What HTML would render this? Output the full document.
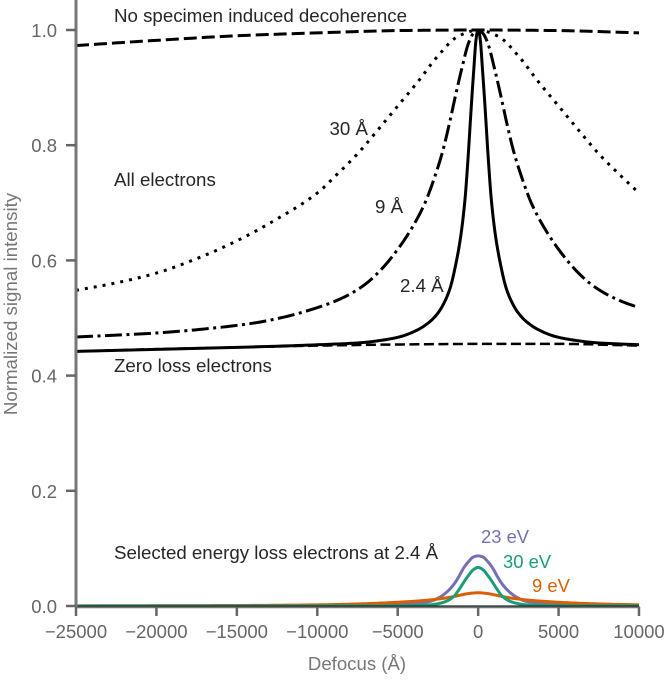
<!DOCTYPE html>
<html>
<head>
<meta charset="utf-8">
<title>Normalized signal intensity vs defocus</title>
<style>
html,body{margin:0;padding:0;background:#fff;width:665px;height:680px;overflow:hidden}
svg{display:block;font-family:"Liberation Sans",Arial,sans-serif}
</style>
</head>
<body>
<svg id="chart" width="665" height="680" viewBox="0 0 665 680" xmlns="http://www.w3.org/2000/svg">
  <g id="series" fill="none"></g>
  <g id="axes"></g>
  <text transform="translate(17,304) rotate(-90)" text-anchor="middle" font-size="18.7" fill="#777">Normalized signal intensity</text>
  <text x="357" y="670" text-anchor="middle" font-size="18.6" fill="#777">Defocus (Å)</text>
  <g font-size="18.7" fill="#262626">
    <text x="114" y="22">No specimen induced decoherence</text>
    <text x="114" y="186">All electrons</text>
    <text x="114" y="372">Zero loss electrons</text>
    <text x="114" y="559">Selected energy loss electrons at 2.4 Å</text>
    <text x="329.5" y="135">30 Å</text>
    <text x="375" y="213">9 Å</text>
    <text x="400" y="292">2.4 Å</text>
  </g>
  <text x="481" y="543" font-size="18.4" fill="#7570b3">23 eV</text>
  <text x="503" y="568" font-size="18.4" fill="#1b9e77">30 eV</text>
  <text x="532" y="592" font-size="18.4" fill="#d95f02">9 eV</text>
</svg>
<script>
const xTicks = [-25000, -20000, -15000, -10000, -5000, 0, 5000, 10000];
const yTicks = [0, 0.2, 0.4, 0.6, 0.8, 1.0];

const noDecoherenceX = [-25000, -20000, -15000, -10000, -5000, 0, 5000, 10000];
const noDecoherenceY = [0.973, 0.982, 0.990, 0.995, 0.999, 1.0, 0.999, 0.995];

const zeroLossX = [-25000, -20000, -15000, -10000, -5000, 0, 5000, 10000];
const zeroLossY = [0.442, 0.446, 0.449, 0.452, 0.454, 0.455, 0.455, 0.452];

const all30X = [-25000, -22500, -20000, -17500, -15000, -12500, -10000, -8750, -7500, -6250, -5000, -3750, -2500, -1250, 0, 1250, 2500, 3750, 5000, 6250, 7500, 8750, 10000];
const all30Y = [0.548, 0.561, 0.578, 0.603, 0.634, 0.672, 0.717, 0.75, 0.785, 0.826, 0.868, 0.91, 0.955, 0.989, 1.0, 0.989, 0.955, 0.91, 0.868, 0.826, 0.785, 0.75, 0.717];

const all9X = [-25000, -20000, -17000, -14000, -12000, -10000, -9000, -8000, -7000, -6000, -4850, -4000, -3300, -2700, -2200, -1800, -1400, -1000, -600, -300, 0, 300, 600, 1000, 1400, 1800, 2200, 2700, 3300, 4000, 4850, 6000, 7000, 8000, 9000, 10000];
const all9Y = [0.467, 0.474, 0.481, 0.491, 0.502, 0.518, 0.528, 0.541, 0.559, 0.585, 0.625, 0.662, 0.70, 0.745, 0.79, 0.836, 0.887, 0.935, 0.977, 0.994, 1.0, 0.994, 0.977, 0.935, 0.887, 0.836, 0.79, 0.745, 0.70, 0.662, 0.625, 0.585, 0.559, 0.541, 0.528, 0.518];

const all24X = [-25000, -20000, -15000, -10000, -7336, -5844, -4849, -3792, -2966, -2425, -2052, -1741, -1399, -1088, -821, -622, -479, -373, -274, -137, -62, 0, 62, 137, 274, 373, 479, 622, 821, 1088, 1399, 1741, 2052, 2425, 2966, 3792, 4849, 5844, 7336, 10000];
const all24Y = [0.442, 0.4455, 0.449, 0.4535, 0.457, 0.462, 0.4675, 0.479, 0.4945, 0.5115, 0.53, 0.552, 0.592, 0.641, 0.705, 0.78, 0.844, 0.89, 0.93, 0.982, 0.996, 1.0, 0.996, 0.982, 0.93, 0.89, 0.844, 0.78, 0.705, 0.641, 0.592, 0.552, 0.53, 0.5115, 0.4945, 0.479, 0.4675, 0.462, 0.457, 0.4535];

const ev23X = [-25000, -15000, -10000, -7000, -5000, -4000, -3000, -2500, -2000, -1500, -1200, -900, -600, -300, 0, 300, 600, 900, 1200, 1500, 2000, 2500, 3000, 4000, 5000, 7000, 10000];
const ev23Y = [0.0001, 0.0002, 0.0007, 0.0014, 0.003, 0.0045, 0.008, 0.0135, 0.023, 0.038, 0.051, 0.066, 0.077, 0.085, 0.087, 0.085, 0.077, 0.066, 0.051, 0.038, 0.023, 0.0135, 0.008, 0.0045, 0.003, 0.0014, 0.0007];

const ev30X = [-25000, -10000, -5000, -4000, -3000, -2500, -2000, -1500, -1200, -900, -600, -300, 0, 300, 600, 900, 1200, 1500, 2000, 2500, 3000, 4000, 5000, 10000];
const ev30Y = [0, 0.0001, 0.0004, 0.0008, 0.002, 0.004, 0.008, 0.017, 0.028, 0.041, 0.053, 0.063, 0.067, 0.063, 0.053, 0.041, 0.028, 0.017, 0.008, 0.004, 0.002, 0.0008, 0.0004, 0.0001];

const ev9X = [-25000, -15000, -10000, -7000, -5000, -4000, -3000, -2000, -1500, -1000, -500, 0, 500, 1000, 1500, 2000, 3000, 4000, 5000, 7000, 10000];
const ev9Y = [0.0003, 0.0009, 0.002, 0.004, 0.0065, 0.0082, 0.0105, 0.014, 0.0165, 0.0195, 0.022, 0.023, 0.022, 0.0195, 0.0165, 0.014, 0.0105, 0.0082, 0.0065, 0.004, 0.002];

const SVGNS = 'http://www.w3.org/2000/svg';
function sx(v) { return 76 + (v + 25000) * (563 / 35000); }
function sy(v) { return 606 - v * 576; }

function monotone(xs, ys) {
  const n = xs.length, d = [], m = [];
  for (let i = 0; i < n - 1; i++) d.push((ys[i + 1] - ys[i]) / (xs[i + 1] - xs[i]));
  m.push(d[0]);
  for (let i = 1; i < n - 1; i++) {
    if (d[i - 1] * d[i] <= 0) { m.push(0); continue; }
    const h0 = xs[i] - xs[i - 1], h1 = xs[i + 1] - xs[i];
    m.push((h0 + h1) * 3 / ((2 * h1 + h0) / d[i - 1] + (h1 + 2 * h0) / d[i]));
  }
  m.push(d[n - 2]);
  return function (x) {
    let i = 0;
    while (i < n - 2 && x > xs[i + 1]) i++;
    const h = xs[i + 1] - xs[i], t = (x - xs[i]) / h, t2 = t * t, t3 = t2 * t;
    return (2 * t3 - 3 * t2 + 1) * ys[i] + (t3 - 2 * t2 + t) * h * m[i] +
      (-2 * t3 + 3 * t2) * ys[i + 1] + (t3 - t2) * h * m[i + 1];
  };
}

function curvePath(xs, ys) {
  const f = monotone(xs, ys);
  const parts = [];
  for (let i = 0; i < xs.length - 1; i++) {
    const steps = 16;
    for (let k = 0; k < steps; k++) {
      const x = xs[i] + (xs[i + 1] - xs[i]) * k / steps;
      parts.push(sx(x).toFixed(2) + ',' + sy(f(x)).toFixed(2));
    }
  }
  const last = xs.length - 1;
  parts.push(sx(xs[last]).toFixed(2) + ',' + sy(ys[last]).toFixed(2));
  return 'M' + parts.join('L');
}

const seriesGroup = document.getElementById('series');
const axesGroup = document.getElementById('axes');

function addCurve(name, xs, ys, color, width, dash) {
  const p = document.createElementNS(SVGNS, 'path');
  
  
  p.setAttribute('d', curvePath(xs, ys));
  p.setAttribute('stroke', color);
  p.setAttribute('stroke-width', width);
  p.setAttribute('stroke-linejoin', 'round');
  if (dash) p.setAttribute('stroke-dasharray', dash);
  seriesGroup.appendChild(p);
}

addCurve('no-decoherence-curve', noDecoherenceX, noDecoherenceY, '#000', 3, '13 5');
addCurve('zero-loss-curve', zeroLossX, zeroLossY, '#000', 2.5, '10 4.5');
addCurve('all-electrons-30a-curve', all30X, all30Y, '#000', 3, '3 6');
addCurve('all-electrons-9a-curve', all9X, all9Y, '#000', 3, '17 4.5 3 4.5');
addCurve('all-electrons-2-4a-curve', all24X, all24Y, '#000', 3, '');
addCurve('energy-loss-23ev-curve', ev23X, ev23Y, '#7570b3', 3, '');
addCurve('energy-loss-9ev-curve', ev9X, ev9Y, '#d95f02', 3, '');
addCurve('energy-loss-30ev-curve', ev30X, ev30Y, '#1b9e77', 3, '');

const xAxisLine = document.createElementNS(SVGNS, 'line');


xAxisLine.setAttribute('x1', sx(-25000));
xAxisLine.setAttribute('x2', sx(10000) + 1);
xAxisLine.setAttribute('y1', sy(0) + 1.3);
xAxisLine.setAttribute('y2', sy(0) + 1.3);
xAxisLine.setAttribute('stroke', '#777');
xAxisLine.setAttribute('stroke-width', 1.8);
axesGroup.appendChild(xAxisLine);

const baselineLine = document.createElementNS(SVGNS, 'line');


baselineLine.setAttribute('x1', sx(-25000));
baselineLine.setAttribute('x2', sx(10000));
baselineLine.setAttribute('y1', sy(0));
baselineLine.setAttribute('y2', sy(0));
baselineLine.setAttribute('stroke', '#1c2f2a');
baselineLine.setAttribute('stroke-width', 1.2);
axesGroup.appendChild(baselineLine);

const yAxisLine = document.createElementNS(SVGNS, 'line');


yAxisLine.setAttribute('x1', sx(-25000));
yAxisLine.setAttribute('x2', sx(-25000));
yAxisLine.setAttribute('y1', 0);
yAxisLine.setAttribute('y2', 607);
yAxisLine.setAttribute('stroke', '#777');
yAxisLine.setAttribute('stroke-width', 3);
axesGroup.appendChild(yAxisLine);

xTicks.forEach(function (v) {
  const t = document.createElementNS(SVGNS, 'line');
  
  
  t.setAttribute('x1', sx(v));
  t.setAttribute('x2', sx(v));
  t.setAttribute('y1', sy(0) + 1);
  t.setAttribute('y2', sy(0) + 10);
  t.setAttribute('stroke', '#666');
  t.setAttribute('stroke-width', 2.5);
  axesGroup.appendChild(t);
  const l = document.createElementNS(SVGNS, 'text');
  
  
  l.setAttribute('x', sx(v));
  l.setAttribute('y', 638);
  l.setAttribute('text-anchor', 'middle');
  l.setAttribute('font-size', '18.5');
  l.setAttribute('fill', '#666');
  l.textContent = String(v).replace('-', '\u2212');
  axesGroup.appendChild(l);
});

yTicks.forEach(function (v) {
  const t = document.createElementNS(SVGNS, 'line');
  
  
  t.setAttribute('x1', 66);
  t.setAttribute('x2', sx(-25000));
  t.setAttribute('y1', sy(v));
  t.setAttribute('y2', sy(v));
  t.setAttribute('stroke', '#666');
  t.setAttribute('stroke-width', 2.5);
  axesGroup.appendChild(t);
  const l = document.createElementNS(SVGNS, 'text');
  
  
  l.setAttribute('x', 57);
  l.setAttribute('y', sy(v) + 7);
  l.setAttribute('text-anchor', 'end');
  l.setAttribute('font-size', '18.5');
  l.setAttribute('fill', '#666');
  l.textContent = v.toFixed(1);
  axesGroup.appendChild(l);
});
</script>
</body>
</html>
